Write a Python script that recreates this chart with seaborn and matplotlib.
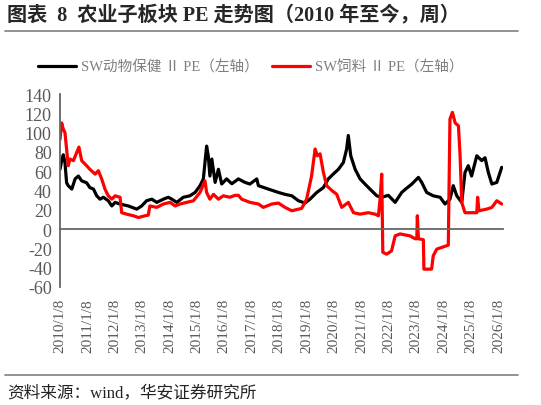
import pandas as pd
import numpy as np
import matplotlib
matplotlib.use("Agg")
import matplotlib.pyplot as plt
import matplotlib.dates as mdates
from matplotlib.lines import Line2D
import seaborn as sns

# weekly PE, time as decimal year
black_t = [2010.02, 2010.08, 2010.14, 2010.20, 2010.26, 2010.32, 2010.45, 2010.57, 2010.69, 2010.81,
           2010.99, 2011.11, 2011.24, 2011.36, 2011.48, 2011.60, 2011.78, 2011.91, 2012.03, 2012.21,
           2012.51, 2012.82, 2013.00, 2013.18, 2013.37, 2013.55, 2013.79, 2013.97, 2014.10, 2014.28,
           2014.52, 2014.76, 2014.95, 2015.13, 2015.25, 2015.37, 2015.43, 2015.49, 2015.56, 2015.68,
           2015.80, 2015.92, 2016.10, 2016.29, 2016.53, 2016.77, 2016.95, 2017.20, 2017.26, 2017.62,
           2017.99, 2018.23, 2018.48, 2018.72, 2018.96, 2019.14, 2019.39, 2019.63, 2019.81, 2019.99,
           2020.18, 2020.36, 2020.48, 2020.54, 2020.63, 2020.79, 2020.97, 2021.15, 2021.33, 2021.58,
           2021.76, 2022.00, 2022.25, 2022.49, 2022.61, 2022.86, 2023.10, 2023.22, 2023.40, 2023.64,
           2023.89, 2024.07, 2024.25, 2024.37, 2024.50, 2024.68, 2024.80, 2024.92, 2025.04, 2025.23,
           2025.41, 2025.53, 2025.65, 2025.78, 2025.96, 2026.14]
black_v = [62, 71, 77, 69, 48, 45, 41.5, 52, 55, 50,
           48, 43, 41.5, 34.5, 31, 33, 29.4, 24, 27.7, 26,
           24, 20.7, 24, 29.4, 31, 27.7, 31, 33, 31, 27.7,
           33, 34.5, 38, 45, 52, 86, 76, 55, 72.6, 48.4,
           62, 46.7, 52, 47, 52, 48.4, 46.7, 52, 45, 41.5,
           38, 36, 34.5, 29.4, 27, 31, 38, 43, 52, 57,
           62, 69, 83, 97, 76, 62, 52, 46.7, 41.5, 34.5,
           33, 35, 27.7, 38, 41, 46.7, 53.6, 48.4, 38, 34.5,
           33, 26, 31, 45, 34.5, 27.7, 58.8, 65.7, 55, 76,
           71, 74, 58.8, 46.7, 48.4, 64]

red_t = [2010.02, 2010.08, 2010.14, 2010.20, 2010.26, 2010.32, 2010.38, 2010.51, 2010.63, 2010.71,
         2010.81, 2010.99, 2011.11, 2011.30, 2011.42, 2011.54, 2011.66, 2011.78, 2011.91, 2012.03,
         2012.21, 2012.27, 2012.45, 2012.70, 2012.88, 2013.12, 2013.24, 2013.30, 2013.55, 2013.79,
         2014.04, 2014.22, 2014.40, 2014.64, 2014.89, 2015.13, 2015.31, 2015.37, 2015.49, 2015.62,
         2015.80, 2015.98, 2016.22, 2016.41, 2016.53, 2016.65, 2016.95, 2017.26, 2017.44, 2017.75,
         2017.99, 2018.23, 2018.48, 2018.84, 2019.02, 2019.20, 2019.33, 2019.41, 2019.51, 2019.63,
         2019.75, 2019.94, 2020.12, 2020.30, 2020.54, 2020.73, 2020.97, 2021.27, 2021.52, 2021.64,
         2021.70, 2021.76, 2021.80, 2021.94, 2022.12, 2022.25, 2022.43, 2022.79, 2022.98, 2023.04,
         2023.06, 2023.10, 2023.28, 2023.30, 2023.58, 2023.64, 2023.77, 2023.95, 2024.19, 2024.25,
         2024.34, 2024.44, 2024.56, 2024.62, 2024.68, 2024.80, 2025.23, 2025.26, 2025.31, 2025.59,
         2025.78, 2025.96, 2026.14]
red_v = [93, 110, 103.7, 100, 83, 65.7, 72.6, 71, 79.5, 85,
         71, 65.7, 62, 57, 60.5, 52, 41.5, 34.5, 31, 34.5,
         33, 17, 15.5, 13.8, 12, 13.8, 14.5, 24, 22.5, 26,
         27.7, 24, 26, 27.7, 29.4, 38, 50, 38, 31, 36,
         31, 34.5, 33, 35, 35, 31, 27.7, 26, 22.5, 26,
         27, 22.5, 19, 21.5, 31, 55, 83, 76, 78, 59,
         45, 40, 36, 22.5, 27.7, 17, 15.5, 17, 15.5, 13.8,
         31, 57, -24, -26, -22.5, -7, -5, -7, -10, -10,
         13.8, -10, -11, -41.5, -41.5, -27.7, -20.7, -19, -16.6, 114,
         121, 110, 107, 76, 27.7, 17, 17, 33, 19, 20.7,
         22.5, 29.4, 26]

black_name = "SW动物保健 Ⅱ PE（左轴）"
red_name = "SW饲料 Ⅱ PE（左轴）"
tick_years = list(range(2010, 2027))


def to_date(t):
    t = np.asarray(t)
    return pd.Timestamp("2010-01-01") + pd.to_timedelta((t - 2010) * 365.25, unit="D")


df = pd.concat([
    pd.DataFrame({"date": to_date(black_t), "pe": black_v, "series": black_name}),
    pd.DataFrame({"date": to_date(red_t), "pe": red_v, "series": red_name}),
])

sns.set_style("white")
plt.rcParams["font.family"] = ["Liberation Serif", "Noto Sans CJK SC"]
plt.rcParams["axes.unicode_minus"] = False

grey = "#666666"
fig = plt.figure(figsize=(5.41, 4.06), dpi=100)
ax = fig.add_axes([60 / 541, 1 - 288 / 406, 443 / 541, 193 / 406])

sns.lineplot(data=df, x="date", y="pe", hue="series",
             palette={black_name: "#000000", red_name: "#ff0000"},
             linewidth=2.3, ax=ax)
handles, labels = ax.get_legend_handles_labels()
ax.get_legend().remove()

ax.set_ylim(-60, 140)
ax.set_yticks(range(-60, 141, 20))
ax.set_xlim(pd.Timestamp("2010-01-08"), pd.Timestamp("2026-03-10"))
ax.set_xlabel("")
ax.set_ylabel("")

for s in ["top", "right"]:
    ax.spines[s].set_visible(False)
ax.spines["left"].set_color(grey)
ax.spines["left"].set_linewidth(1.3)
ax.spines["bottom"].set_position(("data", 0))
ax.spines["bottom"].set_color(grey)
ax.spines["bottom"].set_linewidth(1.3)

ticks = [pd.Timestamp(f"{y}-01-08") for y in tick_years]
ax.set_xticks(ticks)
ax.tick_params(axis="x", direction="out", length=5, width=1.2, color=grey, labelbottom=False)
ax.tick_params(axis="y", direction="out", length=5, width=1.2, color=grey,
               labelsize=13, labelcolor="#595959", pad=1)

sec = ax.secondary_xaxis(0)
sec.set_xticks(mdates.date2num(ticks), [f"{y}/1/8" for y in tick_years])
sec.spines["bottom"].set_visible(False)
sec.tick_params(axis="x", length=0, pad=8, labelsize=11, labelcolor="#595959", labelrotation=90)

fig.legend(handles, labels, loc="center", bbox_to_anchor=(0.464, 1 - 68 / 406), ncol=2,
           frameon=False, fontsize=10.5, handlelength=2.6, handletextpad=0.35,
           columnspacing=0.9, labelcolor="#7f7f7f")

fig.text(7 / 541, 1 - 16 / 406, "图表  8  农业子板块 PE 走势图（2010 年至今，周）",
         fontsize=14.5, fontweight="bold", va="center", ha="left")
fig.add_artist(Line2D([5 / 541, 518 / 541], [1 - 32 / 406] * 2, color="#808080", lw=1.2))
fig.add_artist(Line2D([5 / 541, 518 / 541], [1 - 376 / 406] * 2, color="#808080", lw=1.2))
fig.text(7 / 541, 1 - 393 / 406, "资料来源：wind，华安证券研究所", fontsize=12,
         va="center", ha="left", color="#222222")

fig.savefig("out.png", dpi=100)
